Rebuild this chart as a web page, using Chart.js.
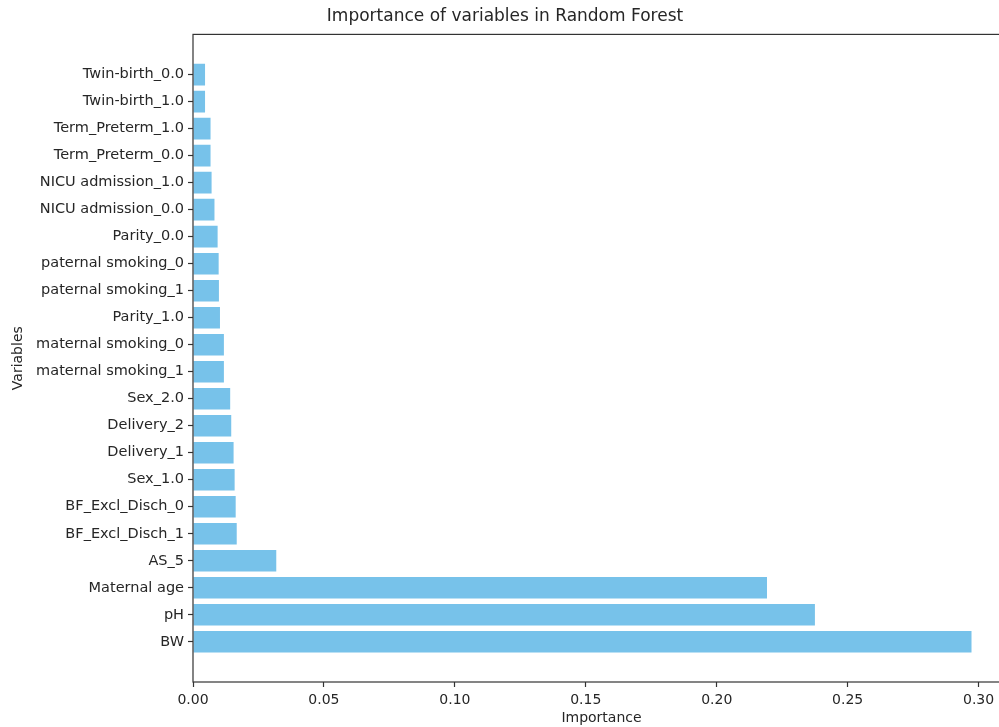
<!DOCTYPE html>
<html>
<head>
<meta charset="utf-8">
<title>Importance of variables in Random Forest</title>
<script src="https://cdn.jsdelivr.net/npm/chart.js@4.4.1/dist/chart.umd.min.js"></script>
<style>
    html, body { margin: 0; padding: 0; background: #fff; overflow: hidden; }
    #wrap { position: relative; width: 1010px; height: 727px; }
</style>
</head>
<body>
<div id="wrap"><canvas id="importanceChart"></canvas></div>
<script>
// variables, bottom (index 0) to top
const variables = [
    'BW', 'pH', 'Maternal age', 'AS_5', 'BF_Excl_Disch_1', 'BF_Excl_Disch_0',
    'Sex_1.0', 'Delivery_1', 'Delivery_2', 'Sex_2.0', 'maternal smoking_1',
    'maternal smoking_0', 'Parity_1.0', 'paternal smoking_1', 'paternal smoking_0',
    'Parity_0.0', 'NICU admission_0.0', 'NICU admission_1.0', 'Term_Preterm_0.0',
    'Term_Preterm_1.0', 'Twin-birth_1.0', 'Twin-birth_0.0'
];
const importance = [
    0.2973, 0.2375, 0.2192, 0.0318, 0.0167, 0.0163,
    0.0159, 0.0155, 0.0146, 0.0142, 0.0118,
    0.0118, 0.0103, 0.0099, 0.0098,
    0.0094, 0.0082, 0.0071, 0.0067,
    0.0067, 0.0046, 0.0046
];
const xTicks = [0, 0.05, 0.10, 0.15, 0.20, 0.25, 0.30];

const font = 'DejaVu Sans';
const textColor = '#262626';

// matplotlib style box around the plot area
const frame = {
    id: 'frame',
    afterDraw(chart) {
        const a = chart.chartArea;
        const c = chart.ctx;
        c.save();
        c.strokeStyle = '#333';
        c.lineWidth = 1.2;
        c.strokeRect(a.left, a.top, a.right - a.left, a.bottom - a.top);
        c.restore();
    }
};

const ctx = document.getElementById('importanceChart').getContext('2d');

new Chart(ctx, {
    type: 'bar',
    data: {
        datasets: [{
            label: 'Importance',
            data: importance.map((v, i) => ({ x: v, y: i })),
            backgroundColor: '#77c2ea',
            borderWidth: 0,
            categoryPercentage: 1,
            barPercentage: 0.8
        }]
    },
    options: {
        indexAxis: 'y',
        responsive: true,
        maintainAspectRatio: false,
        animation: false,
        layout: { padding: 0 },
        scales: {
            x: {
                type: 'linear',
                min: 0,
                max: 0.312,
                afterBuildTicks: scale => { scale.ticks = xTicks.map(v => ({ value: v })); },
                afterFit: scale => { scale.height = 45; },
                grid: { display: true, offset: false, drawOnChartArea: false, drawTicks: true, tickLength: 5, tickColor: '#333', tickWidth: 1.2 },
                border: { display: false },
                ticks: {
                    padding: 5,
                    color: textColor,
                    font: { family: font, size: 14 },
                    maxRotation: 0,
                    callback: v => v.toFixed(2)
                },
                title: {
                    display: true,
                    text: 'Importance',
                    color: textColor,
                    font: { family: font, size: 14 },
                    padding: { top: 0, bottom: 0 }
                }
            },
            y: {
                type: 'linear',
                offset: false,
                min: -1.49,
                max: 22.49,
                afterBuildTicks: scale => { scale.ticks = variables.map((v, i) => ({ value: i })); },
                afterFit: scale => { scale.width = 193; },
                grid: { display: true, offset: false, drawOnChartArea: false, drawTicks: true, tickLength: 5, tickColor: '#333', tickWidth: 1.2 },
                border: { display: false },
                ticks: {
                    padding: 4,
                    color: textColor,
                    font: { family: font, size: 14.5 },
                    autoSkip: false,
                    callback: v => variables[v]
                },
                title: {
                    display: true,
                    text: 'Variables',
                    color: textColor,
                    font: { family: font, size: 14 },
                    padding: { top: 10, bottom: 0 }
                }
            }
        },
        plugins: {
            legend: { display: false },
            tooltip: { enabled: false },
            title: {
                display: true,
                text: 'Importance of variables in Random Forest',
                color: textColor,
                font: { family: font, size: 17, weight: 'normal' },
                padding: { top: 6, bottom: 8 }
            }
        }
    },
    plugins: [frame]
});
</script>
</body>
</html>
